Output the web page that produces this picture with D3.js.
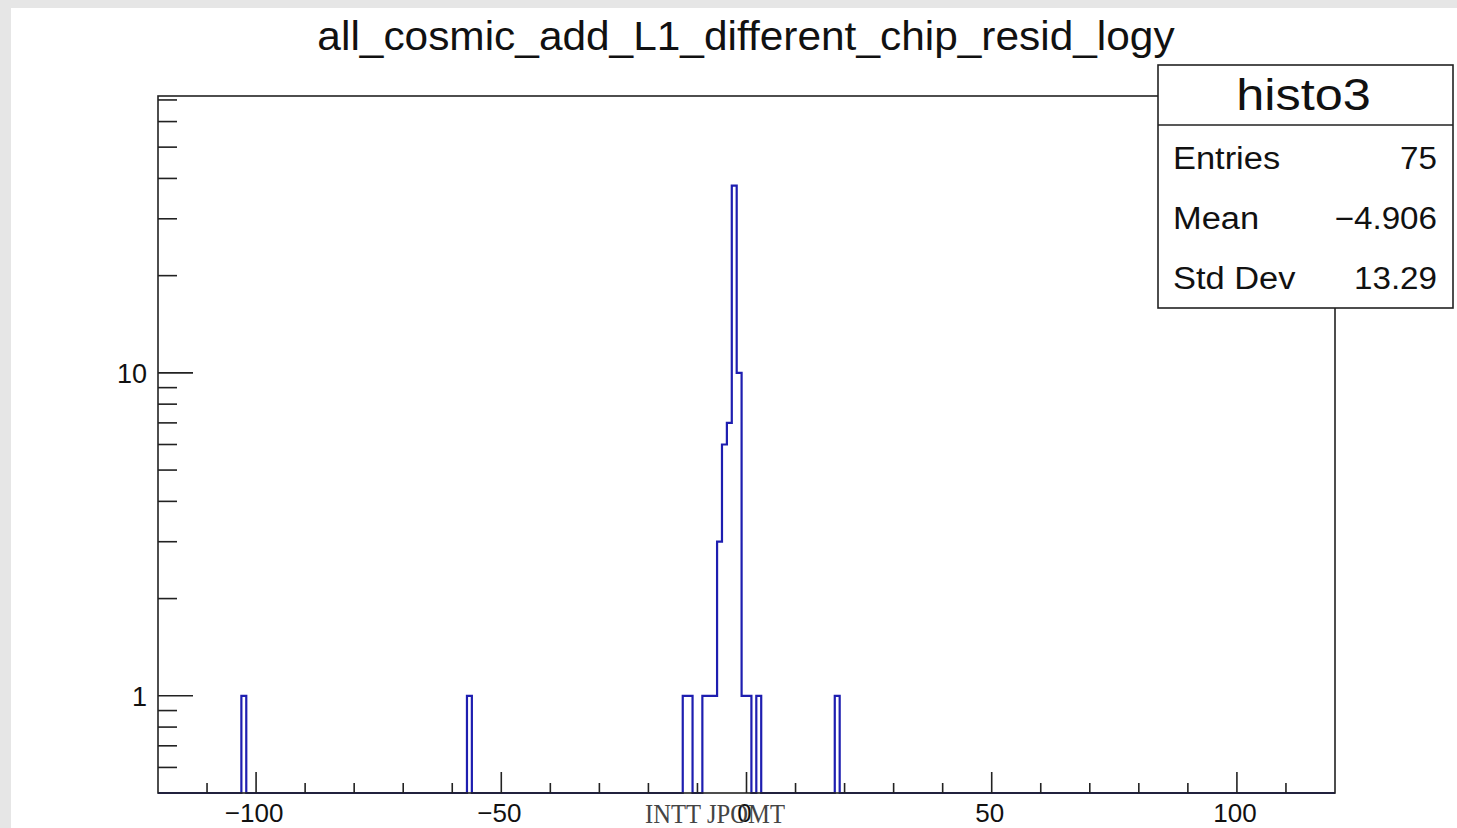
<!doctype html>
<html>
<head>
<meta charset="utf-8">
<title>all_cosmic_add_L1_different_chip_resid_logy</title>
<script src="https://d3js.org/d3.v7.min.js"></script>
<style type="text/css">
  html, body { margin: 0; padding: 0; background: #e6e6e6; }
  svg { display: block; font-family: "Liberation Sans", Arial, sans-serif; }
  .axis line, .axis path { stroke: #222; }
</style>
</head>
<body>
<div id="my_dataviz"></div>
<script>
// histogram: 1-unit bins on [-120, 120], only non-empty bins listed
const xRange = [-120, 120];
const binWidth = 1;
const binLow = [-103, -57, -13, -12, -9, -8, -7, -6, -5, -4, -3, -2, -1, 0, 2, 18];
const counts = [1, 1, 1, 1, 1, 1, 1, 3, 6, 7, 38, 10, 1, 1, 1, 1];

const xMajor = [-100, -50, 0, 50, 100];
const xMinor = [-110, -90, -80, -70, -60, -40, -30, -20, -10, 10, 20, 30, 40, 60, 70, 80, 90, 110];
const yMajor = [1, 10];
const yMinor = [0.6, 0.7, 0.8, 0.9, 2, 3, 4, 5, 6, 7, 8, 9, 20, 30, 40, 50, 60, 70];

const statLabels = ["Entries", "Mean", "Std Dev"];
const statValues = ["75", "\u22124.906", "13.29"];

const W = 1457, H = 828;
var margin = {top: 96, left: 158, right: 1335, bottom: 793};

var svg = d3.select("#my_dataviz").append("svg")
  .attr("width", W).attr("height", H);

// white canvas
svg.append("rect").attr("x", 11).attr("y", 8)
  .attr("width", W - 11).attr("height", H - 8).attr("fill", "#fff");

var x = d3.scaleLinear().domain(xRange).range([margin.left, margin.right]);
var y = d3.scaleLog().domain([0.5, 72]).range([margin.bottom, margin.top]);

// stretch text horizontally a little, like the original rendering
function stretch(sel, f) {
  sel.each(function() {
    var w = this.getComputedTextLength();
    d3.select(this).attr("textLength", w * f).attr("lengthAdjust", "spacingAndGlyphs");
  });
}

// full bin array
var nb = (xRange[1] - xRange[0]) / binWidth;
var bins = d3.range(nb).map(function(i) { return {x0: xRange[0] + i * binWidth, n: 0}; });
binLow.forEach(function(b, i) {
  bins[Math.round((b - xRange[0]) / binWidth)].n = counts[i];
});

// step outline
var ymin = y.domain()[0];
var pts = [[xRange[0], ymin]];
bins.forEach(function(b) {
  var v = b.n > 0 ? b.n : ymin;
  pts.push([b.x0, v]);
  pts.push([b.x0 + binWidth, v]);
});
pts.push([xRange[1], ymin]);

svg.append("path")
  .attr("d", d3.line().x(function(d) { return x(d[0]); }).y(function(d) { return y(d[1]); })(pts))
  .attr("fill", "none")
  .attr("stroke", "#1e1eb0")
  .attr("stroke-width", 2.2);

// frame
svg.append("rect")
  .attr("x", margin.left).attr("y", margin.top)
  .attr("width", margin.right - margin.left).attr("height", margin.bottom - margin.top)
  .attr("fill", "none").attr("stroke", "#222").attr("stroke-width", 1.6);

// x axis ticks
var gx = svg.append("g").attr("class", "axis");
gx.selectAll(".maj").data(xMajor).enter().append("line")
  .attr("x1", function(d) { return x(d); }).attr("x2", function(d) { return x(d); })
  .attr("y1", margin.bottom).attr("y2", margin.bottom - 21).attr("stroke-width", 1.6);
gx.selectAll(".min").data(xMinor).enter().append("line")
  .attr("x1", function(d) { return x(d); }).attr("x2", function(d) { return x(d); })
  .attr("y1", margin.bottom).attr("y2", margin.bottom - 10).attr("stroke-width", 1.6);
gx.selectAll("text").data(xMajor).enter().append("text")
  .attr("x", function(d) { return x(d) - 2; })
  .attr("y", 822)
  .attr("text-anchor", "middle")
  .style("font-size", "26px")
  .attr("fill", "#111")
  .text(function(d) { return d < 0 ? "\u2212" + Math.abs(d) : d; });

// y axis ticks
var gy = svg.append("g").attr("class", "axis");
gy.selectAll(".maj").data(yMajor).enter().append("line")
  .attr("x1", margin.left).attr("x2", margin.left + 35)
  .attr("y1", function(d) { return y(d); }).attr("y2", function(d) { return y(d); })
  .attr("stroke-width", 1.6);
gy.selectAll(".min").data(yMinor).enter().append("line")
  .attr("x1", margin.left).attr("x2", margin.left + 19)
  .attr("y1", function(d) { return y(d); }).attr("y2", function(d) { return y(d); })
  .attr("stroke-width", 1.6);
gy.selectAll("text").data(yMajor).enter().append("text")
  .attr("x", 147)
  .attr("y", function(d) { return y(d) + 10; })
  .attr("text-anchor", "end")
  .style("font-size", "27px")
  .attr("fill", "#111")
  .text(function(d) { return d; });

// title
svg.append("text")
  .attr("x", 746).attr("y", 50)
  .attr("text-anchor", "middle")
  .style("font-size", "40px")
  .attr("fill", "#111")
  .text("all_cosmic_add_L1_different_chip_resid_logy")
  .call(stretch, 1.06);

// stats box
var box = {x: 1158, y: 65, w: 295, h: 243, sep: 125};
svg.append("rect")
  .attr("x", box.x).attr("y", box.y).attr("width", box.w).attr("height", box.h)
  .attr("fill", "#fff").attr("stroke", "#222").attr("stroke-width", 1.6);
svg.append("line")
  .attr("x1", box.x).attr("x2", box.x + box.w)
  .attr("y1", box.sep).attr("y2", box.sep)
  .attr("stroke", "#222").attr("stroke-width", 1.6);
svg.append("text")
  .attr("x", box.x + box.w / 2 - 2).attr("y", 110)
  .attr("text-anchor", "middle")
  .style("font-size", "45px")
  .attr("fill", "#111")
  .text("histo3")
  .call(stretch, 1.12);

var rows = svg.append("g");
rows.selectAll(".lab").data(statLabels).enter().append("text")
  .attr("x", 1173)
  .attr("y", function(d, i) { return 169 + i * 60; })
  .style("font-size", "31px")
  .attr("fill", "#111")
  .text(function(d) { return d; })
  .call(stretch, 1.11);
rows.selectAll(".val").data(statValues).enter().append("text")
  .attr("x", 1437)
  .attr("y", function(d, i) { return 169 + i * 60; })
  .attr("text-anchor", "end")
  .style("font-size", "31px")
  .attr("fill", "#111")
  .text(function(d) { return d; })
  .call(stretch, 1.07);

// watermark
svg.append("text")
  .attr("x", 715).attr("y", 823)
  .attr("text-anchor", "middle")
  .style("font-family", "'Liberation Serif', 'Times New Roman', serif")
  .style("font-size", "28px")
  .attr("fill", "#444")
  .text("INTT JPOMT")
  .call(stretch, 0.88);
</script>
</body>
</html>
